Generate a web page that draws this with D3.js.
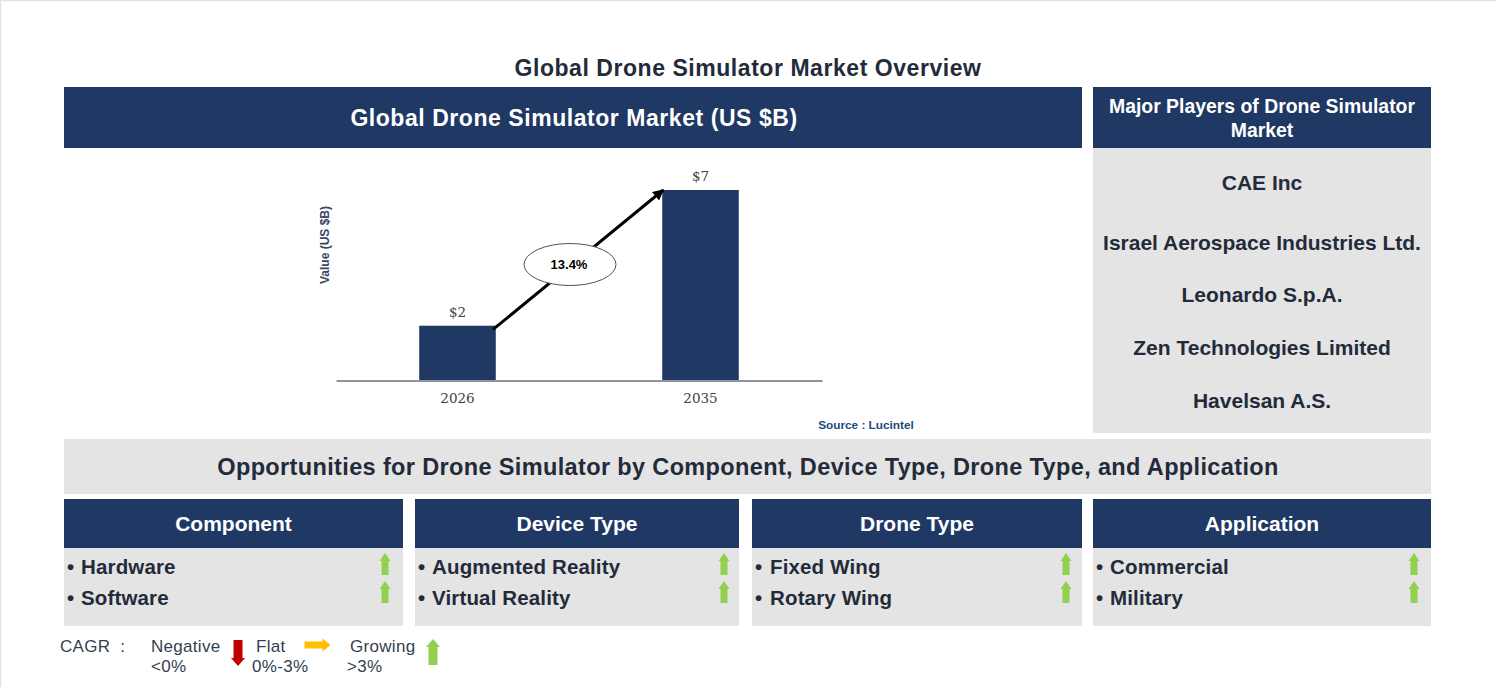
<!DOCTYPE html>
<html>
<head>
<meta charset="utf-8">
<script src="https://cdn.jsdelivr.net/npm/d3@7"></script>
<style>
  html, body { margin: 0; padding: 0; background: #fff; overflow: hidden; }
  text { font-family: "Liberation Sans", Arial, sans-serif; }
</style>
</head>
<body>
<div id="container"></div>
<script>
// Chart values
const years = ["2026", "2035"];
const marketValues = [2, 7];
const cagrLabel = "13.4%";
const players = ["CAE Inc", "Israel Aerospace Industries Ltd.", "Leonardo S.p.A.", "Zen Technologies Limited", "Havelsan A.S."];
const segmentNames = ["Component", "Device Type", "Drone Type", "Application"];
const segmentItems = [
    ["Hardware", "Software"],
    ["Augmented Reality", "Virtual Reality"],
    ["Fixed Wing", "Rotary Wing"],
    ["Commercial", "Military"]
];

const width = 1496;
const height = 687;
const navy = "#203864";
const grey = "#e4e4e4";
const dark = "#232b3a";
const green = "#92d050";

const svg = d3.select("#container")
    .append("svg")
    .attr("width", width)
    .attr("height", height)
    .style("display", "block");

// Faint page border
svg.append("path")
    .attr("d", `M0.5,${height} V0.5 H${width}`)
    .attr("fill", "none")
    .attr("stroke", "#e2e2e2")
    .attr("stroke-width", 1.5);

function box(x, y, w, h, fill) {
    svg.append("rect").attr("x", x).attr("y", y).attr("width", w).attr("height", h).attr("fill", fill);
}

function label(x, y, str, size, fill, opts = {}) {
    return svg.append("text")
        .attr("x", x)
        .attr("y", y)
        .attr("text-anchor", opts.anchor || "middle")
        .attr("font-size", size)
        .attr("font-weight", opts.weight || "bold")
        .attr("letter-spacing", opts.spacing || 0)
        .attr("fill", fill)
        .text(str);
}

// Block arrow pointing up, centred on cx, from top to bottom; other directions by rotating
function arrow(cx, cy, len, shaft, head, headLen, fill, angle) {
    const t = -len / 2, b = len / 2, s = shaft / 2, h = head / 2;
    svg.append("path")
        .attr("d", `M0,${t} L${h},${t + headLen} H${s} V${b} H${-s} V${t + headLen} H${-h} Z`)
        .attr("transform", `translate(${cx},${cy}) rotate(${angle || 0})`)
        .attr("fill", fill);
}

// Titles and panels
label(748, 76, "Global Drone Simulator Market Overview", 23, dark, { spacing: 0.55 });

box(64, 87, 1018, 61, navy);
label(574, 126, "Global Drone Simulator Market (US $B)", 23, "#fff", { spacing: 0.55 });

box(1093, 87, 338, 61, navy);
label(1262, 113, "Major Players of Drone Simulator", 19.4, "#fff");
label(1262, 137, "Market", 19.4, "#fff");

box(1093, 148, 338, 285, grey);
const playerY = [190, 250, 302, 355, 408];
players.forEach((p, i) => label(1262, playerY[i], p, 21, dark));

box(64, 439, 1367, 55, grey);
label(748, 475, "Opportunities for Drone Simulator by Component, Device Type, Drone Type, and Application", 23.5, dark, { spacing: 0.36 });

// Segment columns
const columns = [
    { x: 64, w: 339, arrowX: 385 },
    { x: 415, w: 324, arrowX: 724 },
    { x: 752, w: 330, arrowX: 1066 },
    { x: 1093, w: 338, arrowX: 1414 }
];
columns.forEach((c, i) => {
    box(c.x, 499, c.w, 49, navy);
    box(c.x, 548, c.w, 78, grey);
    label(c.x + c.w / 2, 531, segmentNames[i], 21, "#fff");
    segmentItems[i].forEach((item, j) => {
        const y = 574 + j * 31;
        label(c.x + 3, y, "\u2022", 20.5, dark, { anchor: "start" });
        label(c.x + 17 + (i == 2 ? 1 : 0), y, item, 20.5, dark, { anchor: "start", spacing: 0.15 });
        arrow(c.arrowX, 564 + j * 28, 22, 7, 11, 8, green);
    });
});

// Bar chart
const x = d3.scaleBand()
    .domain(years)
    .range([336, 822])
    .paddingInner(0.685)
    .paddingOuter(0.3425);

const y = d3.scaleLinear()
    .domain([0, 7])
    .range([380, 190]);

const bars = svg.append("g");
bars.selectAll("rect")
    .data(years)
    .enter()
    .append("rect")
    .attr("x", d => x(d))
    .attr("y", (d, i) => y(marketValues[i]))
    .attr("width", x.bandwidth())
    .attr("height", (d, i) => y(0) - y(marketValues[i]))
    .attr("fill", navy);

bars.selectAll("text")
    .data(years)
    .enter()
    .append("text")
    .attr("x", d => x(d) + x.bandwidth() / 2)
    .attr("y", (d, i) => y(marketValues[i]) - 9)
    .attr("text-anchor", "middle")
    .style("font-family", "'DejaVu Serif', serif")
    .style("font-size", "13.5px")
    .attr("fill", "#404040")
    .text((d, i) => "$" + marketValues[i]);

const xAxis = svg.append("g")
    .attr("transform", "translate(0,380.5)")
    .call(d3.axisBottom(x).tickSize(0).tickPadding(13));
xAxis.select(".domain").attr("stroke", "#1f2a3f").attr("stroke-width", 1.2);
xAxis.selectAll("text")
    .style("font-family", "'DejaVu Serif', serif")
    .style("font-size", "13.5px")
    .attr("fill", "#404040");

svg.append("text")
    .attr("transform", "translate(329,245) rotate(-90)")
    .attr("text-anchor", "middle")
    .attr("font-size", 12)
    .attr("font-weight", "bold")
    .attr("fill", "#3a4560")
    .text("Value (US $B)");

// CAGR arrow from the 2026 bar up to the 2035 bar
const defs = svg.append("defs");
defs.append("marker")
    .attr("id", "tip")
    .attr("viewBox", "0 0 10 10")
    .attr("refX", 9)
    .attr("refY", 5)
    .attr("markerUnits", "userSpaceOnUse")
    .attr("markerWidth", 11)
    .attr("markerHeight", 11)
    .attr("orient", "auto")
    .append("path")
    .attr("d", "M0,0 L10,5 L0,10 Z")
    .attr("fill", "#000");

svg.append("line")
    .attr("x1", x(years[0]) + x.bandwidth() - 3)
    .attr("y1", y(marketValues[0]) + 4)
    .attr("x2", x(years[1]) + 1)
    .attr("y2", y(marketValues[1]))
    .attr("stroke", "#000")
    .attr("stroke-width", 3)
    .attr("marker-end", "url(#tip)");

svg.append("ellipse")
    .attr("cx", 570)
    .attr("cy", 264.5)
    .attr("rx", 46)
    .attr("ry", 21)
    .attr("fill", "#fff")
    .attr("stroke", "#44546a")
    .attr("stroke-width", 1);
label(569, 269, cagrLabel, 13, "#000");

label(866, 429, "Source : Lucintel", 11.8, "#1f497d");

// CAGR legend
const legendSize = 17;
const legendFill = "#333f50";
const legendOpts = { anchor: "start", weight: "normal", spacing: 0.3 };
label(60, 652, "CAGR\u00a0\u00a0:", legendSize, legendFill, legendOpts);
label(151, 652, "Negative", legendSize, legendFill, legendOpts);
label(151, 672, "<0%", legendSize, legendFill, legendOpts);
arrow(238, 653, 26, 9, 14, 8, "#c00000", 180);
label(256, 652, "Flat", legendSize, legendFill, legendOpts);
label(252, 672, "0%-3%", legendSize, legendFill, legendOpts);
arrow(317.5, 645, 26, 7, 13, 8, "#ffc000", 90);
label(350, 652, "Growing", legendSize, legendFill, legendOpts);
label(347, 672, ">3%", legendSize, legendFill, legendOpts);
arrow(433, 652, 26, 9, 14, 8, green);
</script>
</body>
</html>
